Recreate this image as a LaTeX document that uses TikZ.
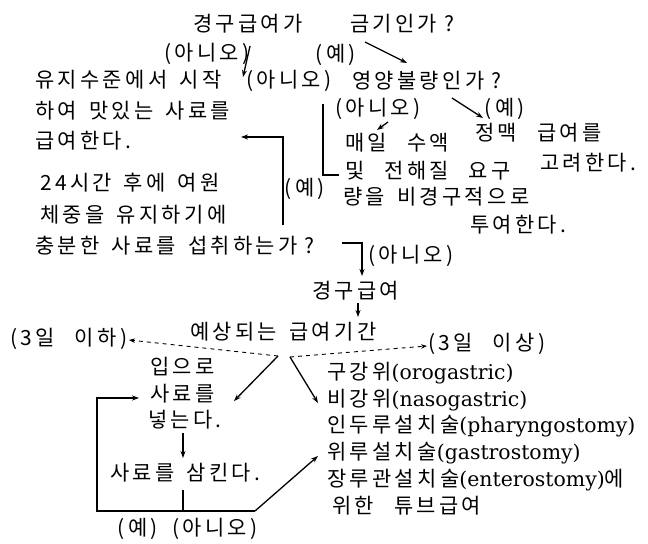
\documentclass[tikz,border=0pt]{standalone}
\usepackage{fontspec}
\setmainfont[LetterSpace=16,WordSpace=1.5]{Noto Sans CJK KR}
\newfontfamily\latf{DejaVu Serif}
\newcommand{\lat}[1]{{\latf\fontsize{20.5}{24}\selectfont #1}}
\newcommand{\wsp}{\hspace{8bp}}
\newcommand{\qsp}{\hspace{7bp}}
\usetikzlibrary{arrows.meta}
\begin{document}
\begin{tikzpicture}[x=1bp,y=-1bp,
  txt/.style={inner sep=0pt, anchor=west, font=\fontsize{21}{24}\selectfont, text height=18.5bp, text depth=2.5bp},
  lbl/.style={txt, anchor=center},
  ln/.style={line width=1.3bp},
  arr/.style={ln, -{Stealth[length=7bp,width=5bp]}},
  dsh/.style={line width=0.9bp, dash pattern=on 4bp off 4bp, -{Stealth[length=6bp,width=4.5bp]}}]
\useasboundingbox (0,0) rectangle (648,544);
% top question
\node[txt] (t1) at (193,24) {경구급여가};
\node[txt] (t2) at (350,24) {금기인가\qsp?};
\node[lbl] (n1) at (207,53) {(아니오)};
\node[lbl] (y1) at (336,54) {(예)};
% left branch
\node[txt] (a1) at (35,80) {유지수준에서 시작};
\node[txt] (a2) at (35,111) {하여 맛있는 사료를};
\node[txt] (a3) at (35,141) {급여한다.};
\node[lbl] (n2) at (289,80) {(아니오)};
\node[txt] (q2) at (352,81) {영양불량인가\qsp?};
\node[lbl] (n3) at (378,108) {(아니오)};
\node[lbl] (y2) at (505,108) {(예)};
\node[txt] (p1) at (345,143) {매일 \wsp 수액};
\node[txt] (p2) at (345,171) {및 \wsp 전해질 \wsp 요구};
\node[txt] (p3) at (343,197) {량을 비경구적으로};
\node[txt] (p4) at (470,225) {투여한다.};
\node[txt] (r1) at (475,133) {정맥 \wsp 급여를};
\node[txt] (r2) at (540,163) {고려한다.};
\node[lbl] (y3) at (305,188) {(예)};
\node[txt] (b1) at (40,183) {24시간 후에 여원};
\node[txt] (b2) at (40,215) {체중을 유지하기에};
\node[txt] (b3) at (35,246) {충분한 사료를 섭취하는가\qsp?};
\node[lbl] (n4) at (411,254) {(아니오)};
\node[txt] (g) at (312,290) {경구급여};
\node[txt] (e) at (190,331) {예상되는 급여기간};
\node[txt] (d1) at (10,337) {(3일 \wsp 이하)};
\node[txt] (d2) at (428,342) {(3일 \wsp 이상)};
\node[txt] (m1) at (150,366) {입으로};
\node[txt] (m2) at (150,393) {사료를};
\node[txt] (m3) at (148,419) {넣는다.};
\node[txt] (s1) at (110,472) {사료를 삼킨다.};
\node[lbl] (y4) at (138,527) {(예)};
\node[lbl] (n5) at (215,527) {(아니오)};
% tube list
\node[txt] (l1) at (327,371) {구강위\lat{(orogastric)}};
\node[txt] (l2) at (327,398) {비강위\lat{(nasogastric)}};
\node[txt] (l3) at (327,424) {인두루설치술\lat{(pharyngostomy)}};
\node[txt] (l4) at (327,451) {위루설치술\lat{(gastrostomy)}};
\node[txt] (l5) at (327,478) {장루관설치술\lat{(enterostomy)}에};
\node[txt] (l6) at (332,505) {위한 \wsp 튜브급여};
% connector points
\coordinate (c1a) at (250,46);  \coordinate (c1b) at (243,77);
\coordinate (c2a) at (365,42);  \coordinate (c2b) at (407,63);
\coordinate (c3a) at (452,98);  \coordinate (c3b) at (483,118);
\coordinate (c4a) at (388,122); \coordinate (c4b) at (377,130);
\coordinate (k1) at (323,104);  \coordinate (k2) at (323,175); \coordinate (k3) at (339,175);
\coordinate (h1) at (283,225);  \coordinate (h2) at (283,137); \coordinate (h3) at (241,137);
\coordinate (j1) at (342,243);  \coordinate (j2) at (362,243); \coordinate (j3) at (362,276);
\coordinate (g1) at (358,303);  \coordinate (g2) at (358,317);
\coordinate (v1) at (278,356);  \coordinate (v2) at (290,357);
\coordinate (dl) at (129,340);  \coordinate (dr) at (427,346);
\coordinate (w1) at (234,401);  \coordinate (w2) at (318,403);
\coordinate (z1) at (183,433);  \coordinate (z2) at (183,458);
\coordinate (z3) at (183,490);  \coordinate (z4) at (183,511);
\coordinate (q1) at (255,511);  \coordinate (q3) at (97,511);
\coordinate (q4) at (97,398);   \coordinate (q5) at (139,398);
\coordinate (q6) at (318,456);
% connectors
\draw[arr] (c1a) -- (c1b);
\draw[arr] (c2a) -- (c2b);
\draw[arr] (c3a) -- (c3b);
\draw[arr] (c4a) -- (c4b);
\draw[ln] (k1) -- (k2) -- (k3);
\draw[arr] (h1) -- (h2) -- (h3);
\draw[arr] (j1) -- (j2) -- (j3);
\draw[arr] (g1) -- (g2);
\draw[dsh] (v1) -- (dl);
\draw[dsh] (v2) -- (dr);
\draw[arr] (v1) -- (w1);
\draw[arr] (v2) -- (w2);
\draw[arr] (z1) -- (z2);
\draw[ln] (z3) -- (z4);
\draw[arr] (q1) -- (q3) -- (q4) -- (q5);
\draw[arr] (q1) -- (q6);
\end{tikzpicture}
\end{document}
